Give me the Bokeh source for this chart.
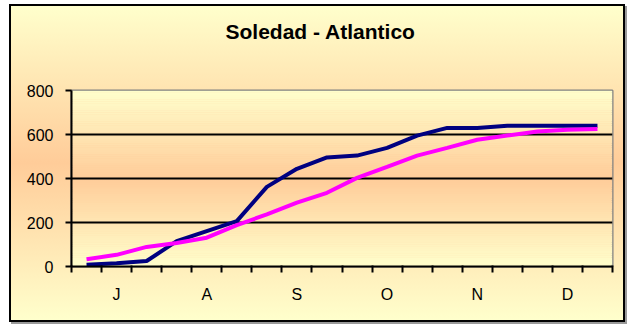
from bokeh.plotting import figure
from bokeh.models import Range1d, FixedTicker, BoxAnnotation, Title
from bokeh.embed import file_html
from bokeh.resources import INLINE

# ---- data ----
title_text = "Soledad  - Atlantico"
decades = list(range(18))  # 3 decades per month, Jul..Dec
month_labels = ["J", "A", "S", "O", "N", "D"]
series_blue = [8, 15, 25, 115, 161, 206, 362, 444, 496, 504, 539, 595, 630, 630, 640, 640, 640, 640]
series_magenta = [33, 53, 89, 107, 131, 188, 237, 290, 335, 403, 453, 504, 539, 576, 595, 614, 622, 625]
y_ticks = [0, 200, 400, 600, 800]

LIGHT = (255, 255, 204)
TAN = (255, 204, 153)

def mix(t):
    r = [round(TAN[i] * (1 - t) + LIGHT[i] * t) for i in range(3)]
    return "#%02x%02x%02x" % tuple(r)

W, H = 616, 318
p = figure(width=W, height=H, output_backend="svg", toolbar_location=None,
           x_range=Range1d(0, 18), y_range=Range1d(0, 800),
           min_border_left=60, min_border_right=15, min_border_top=84, min_border_bottom=58)
p.styles = {
    "margin-left": "9px",
    "margin-top": "4px",
    "border": "2px solid black",
    "box-shadow": "2px 2px 0px #9a9a9a",
    "background": "linear-gradient(to bottom, #FFFFCC 0%, #FFCC99 50%, #FFFFCC 100%)",
}
p.border_fill_alpha = 0
p.background_fill_alpha = 0
p.outline_line_color = "#808080"
p.outline_line_width = 2

# spacer panel between the frame and the title
p.add_layout(Title(text=" ", text_font_size="10px", standoff=30), "above")

# title
p.title.text = title_text
p.title.align = "left"
p.title.offset = 154
p.title.standoff = 10
p.title.text_font = "Liberation Sans"
p.title.text_font_style = "bold"
p.title.text_font_size = "21px"
p.title.text_color = "black"

# plot-area gradient bands
nb = 80
for k in range(nb):
    y0 = 800 * k / nb
    y1 = 800 * (k + 1) / nb
    t = abs((y0 + y1) / 2 - 400) / 400
    p.add_layout(BoxAnnotation(bottom=y0, top=y1, fill_color=mix(t), fill_alpha=1,
                               line_color=None, level="image"))

# grid
p.xgrid.visible = False
p.ygrid.ticker = FixedTicker(ticks=y_ticks[1:-1])
p.ygrid.grid_line_color = "black"
p.ygrid.grid_line_width = 2
p.ygrid.level = "underlay"

xs = [d + 0.5 for d in decades]
p.line(xs, series_blue, line_color="#000080", line_width=4)
p.line(xs, series_magenta, line_color="#FF00FF", line_width=4)

# axes
label_pos = [3 * i + 1.5 for i in range(len(month_labels))]
p.xaxis.ticker = FixedTicker(ticks=label_pos, minor_ticks=list(range(19)))
p.xaxis.major_label_overrides = {pos: m for pos, m in zip(label_pos, month_labels)}
p.xaxis.major_tick_out = 0
p.xaxis.major_tick_in = 0
p.xaxis.minor_tick_out = 6
p.xaxis.minor_tick_in = 1
p.xaxis.minor_tick_line_color = "black"
p.xaxis.minor_tick_line_width = 2
p.xaxis.major_label_standoff = 13

p.yaxis.ticker = FixedTicker(ticks=y_ticks)
p.yaxis.major_tick_out = 6
p.yaxis.major_tick_in = 0
p.yaxis.minor_tick_out = 0
p.yaxis.major_label_standoff = 12

for ax in (p.xaxis[0], p.yaxis[0]):
    ax.axis_line_color = "black"
    ax.axis_line_width = 2
    ax.major_tick_line_color = "black"
    ax.major_tick_line_width = 2
    ax.major_label_text_font = "Liberation Sans"
    ax.major_label_text_font_size = "16px"
    ax.major_label_text_color = "black"

open("out.html", "w").write(file_html(p, INLINE))
